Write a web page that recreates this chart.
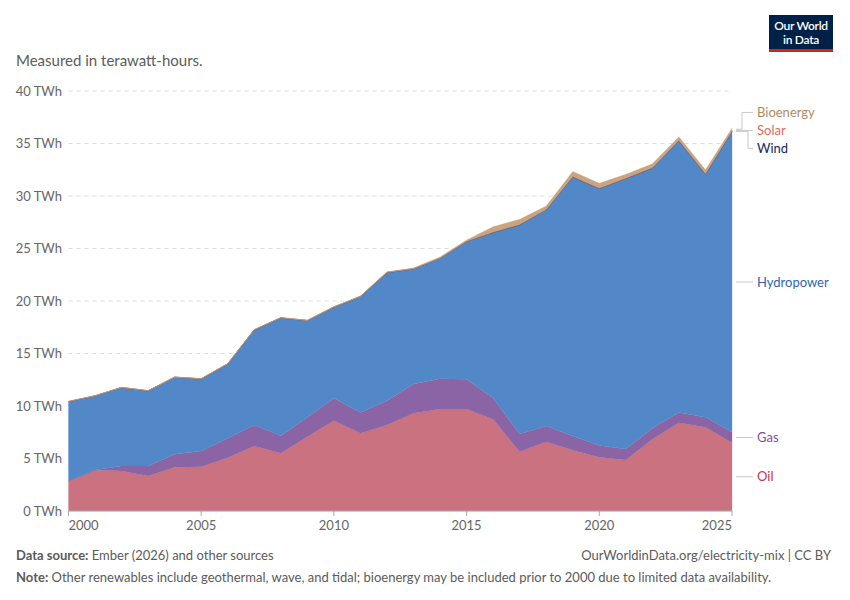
<!DOCTYPE html>
<html>
<head>
<meta charset="utf-8">
<script src="https://cdn.jsdelivr.net/npm/d3@7"></script>
<style>
  body { margin: 0; background: #fff; }
  svg { font-family: Lato, "Noto Sans", sans-serif; }
</style>
</head>
<body>
<script>
const width = 850,
  height = 600;

const margin = { top: 91, right: 118, bottom: 89, left: 68.5 };

// Data, in TWh
const years = [2000, 2001, 2002, 2003, 2004, 2005, 2006, 2007, 2008, 2009, 2010, 2011, 2012,
  2013, 2014, 2015, 2016, 2017, 2018, 2019, 2020, 2021, 2022, 2023, 2024, 2025];
const oil = [2.86, 3.9, 3.8, 3.33, 4.16, 4.22, 5.08, 6.19, 5.49, 7.08, 8.6, 7.4, 8.19,
  9.3, 9.71, 9.71, 8.73, 5.65, 6.6, 5.78, 5.12, 4.86, 6.83, 8.41, 7.97, 6.51];
const gas = [0, 0, 0.49, 0.96, 1.24, 1.49, 1.84, 2.0, 1.68, 1.84, 2.13, 1.97, 2.32,
  2.8, 2.89, 2.83, 2.0, 1.68, 1.5, 1.36, 1.13, 1.04, 1.04, 0.96, 0.95, 0.98];
const hydropower = [7.55, 7.05, 7.46, 7.14, 7.33, 6.86, 7.08, 9.05, 11.21, 9.21, 8.67, 11.04, 12.19,
  10.95, 11.46, 13.11, 15.78, 19.91, 20.57, 24.66, 24.45, 25.75, 24.76, 25.87, 23.14, 28.64];
const wind = [0.02, 0.02, 0.02, 0.02, 0.02, 0.02, 0.02, 0.02, 0.02, 0.02, 0.03, 0.03, 0.03,
  0.03, 0.03, 0.03, 0.05, 0.05, 0.05, 0.05, 0.05, 0.05, 0.05, 0.05, 0.05, 0.05];
const solar = [0, 0, 0, 0, 0, 0, 0, 0, 0, 0, 0.01, 0.01, 0.01,
  0.01, 0.01, 0.03, 0.03, 0.03, 0.03, 0.03, 0.06, 0.06, 0.06, 0.06, 0.06, 0.08];
const bioenergy = [0.03, 0.03, 0.03, 0.03, 0.03, 0.03, 0.03, 0.03, 0.03, 0.03, 0.03, 0.03, 0.03,
  0.06, 0.1, 0.1, 0.48, 0.46, 0.3, 0.46, 0.4, 0.3, 0.32, 0.3, 0.32, 0.2];

const yTicks = [0, 5, 10, 15, 20, 25, 30, 35, 40];
const xTicks = [2000, 2005, 2010, 2015, 2020, 2025];

// bottom to top
const series = [
  { key: "Oil", values: oil, fill: "#cb7280", text: "#c8344f" },
  { key: "Gas", values: gas, fill: "#8a64a4", text: "#7b4fa3" },
  { key: "Hydropower", values: hydropower, fill: "#5288c7", text: "#2f63b0" },
  { key: "Wind", values: wind, fill: "#4c5a78", text: "#0f2b5b" },
  { key: "Solar", values: solar, fill: "#d98a80", text: "#e06a58" },
  { key: "Bioenergy", values: bioenergy, fill: "#c9a47c", text: "#b08a5f" }
];

const table = years.map((y, i) => {
  const row = { year: y };
  series.forEach(s => (row[s.key] = s.values[i]));
  return row;
});

const stacked = d3.stack().keys(series.map(s => s.key))(table);

const xScale = d3
  .scaleLinear()
  .domain([2000, 2025])
  .range([margin.left, width - margin.right]);

const yScale = d3
  .scaleLinear()
  .domain([0, 40])
  .range([height - margin.bottom, margin.top]);

const svg = d3
  .select("body")
  .append("svg")
  .attr("width", width)
  .attr("height", height);

// subtitle
svg
  .append("text")
  .attr("x", 16)
  .attr("y", 66)
  .attr("font-size", 15)
  .attr("fill", "#5b5b5b")
  .text("Measured in terawatt-hours.");

// logo
const logo = svg.append("g").attr("transform", "translate(769,15)");
logo.append("rect").attr("width", 64).attr("height", 34).attr("fill", "#002147");
logo.append("rect").attr("y", 34).attr("width", 64).attr("height", 3).attr("fill", "#ce261e");
logo
  .append("text")
  .attr("x", 32)
  .attr("y", 14.5)
  .attr("text-anchor", "middle")
  .attr("font-size", 12)
  .attr("font-weight", 600)
  .attr("fill", "#fff")
  .attr("letter-spacing", -0.3)
  .text("Our World");
logo
  .append("text")
  .attr("x", 32)
  .attr("y", 28.5)
  .attr("text-anchor", "middle")
  .attr("font-size", 12)
  .attr("font-weight", 600)
  .attr("fill", "#fff")
  .attr("letter-spacing", -0.3)
  .text("in Data");

// gridlines
svg
  .append("g")
  .selectAll("line")
  .data(yTicks.filter(d => d > 0))
  .enter()
  .append("line")
  .attr("x1", margin.left)
  .attr("x2", width - margin.right)
  .attr("y1", d => yScale(d))
  .attr("y2", d => yScale(d))
  .attr("stroke", "#dcdcdc")
  .attr("stroke-dasharray", "4,4");

// areas
const area = d3
  .area()
  .x(d => xScale(d.data.year))
  .y0(d => yScale(d[0]))
  .y1(d => yScale(d[1]));

svg
  .append("g")
  .selectAll("path")
  .data(stacked)
  .enter()
  .append("path")
  .attr("d", area)
  .attr("fill", (d, i) => series[i].fill)
  .attr("stroke", (d, i) => (series[i].key === "Wind" ? "#5f5f6f" : series[i].fill))
  .attr("stroke-width", (d, i) => (series[i].key === "Wind" ? 0.8 : 0.3));

// y axis labels
svg
  .append("g")
  .selectAll("text")
  .data(yTicks)
  .enter()
  .append("text")
  .attr("x", 62)
  .attr("y", d => yScale(d))
  .attr("dy", "0.35em")
  .attr("text-anchor", "end")
  .attr("font-size", 13)
  .attr("fill", "#666")
  .text(d => d + " TWh");

// x axis
const xAxis = svg.append("g");
xAxis
  .append("line")
  .attr("x1", margin.left)
  .attr("x2", width - margin.right)
  .attr("y1", yScale(0))
  .attr("y2", yScale(0))
  .attr("stroke", "#a9a9a9");
xAxis
  .selectAll(".tick")
  .data(xTicks)
  .enter()
  .append("line")
  .attr("x1", d => xScale(d))
  .attr("x2", d => xScale(d))
  .attr("y1", yScale(0))
  .attr("y2", yScale(0) + 5)
  .attr("stroke", "#a9a9a9");
xAxis
  .selectAll("text")
  .data(xTicks)
  .enter()
  .append("text")
  .attr("x", d => xScale(d))
  .attr("y", yScale(0) + 19)
  .attr("text-anchor", (d, i) => (i === 0 ? "start" : i === xTicks.length - 1 ? "end" : "middle"))
  .attr("font-size", 13)
  .attr("fill", "#666")
  .text(d => d);

// labels on the right
const last = years.length - 1;
const labels = stacked.map((s, i) => ({
  key: series[i].key,
  color: series[i].text,
  target: yScale((s[last][0] + s[last][1]) / 2)
}));
labels.forEach(l => (l.y = l.target));
// spread overlapping labels, top to bottom
const order = labels.slice().sort((a, b) => a.target - b.target);
const gap = 18;
for (let iter = 0; iter < 50; iter++) {
  for (let i = 1; i < order.length; i++) {
    const a = order[i - 1], b = order[i];
    if (b.y - a.y < gap) {
      const mid = (a.y + b.y) / 2;
      a.y = mid - gap / 2;
      b.y = mid + gap / 2;
    }
  }
}

const lx0 = width - margin.right + 4;
const lx1 = lx0 + 17;
const lg = svg.append("g");
lg.selectAll("path")
  .data(labels)
  .enter()
  .append("path")
  .attr("d", l => {
    if (Math.abs(l.y - l.target) < 2) return `M${lx0},${l.y}H${lx1}`;
    const bend = l.y < l.target ? lx0 + 6 : lx0 + 12;
    return `M${lx0},${l.target}H${bend}V${l.y}H${lx1}`;
  })
  .attr("fill", "none")
  .attr("stroke", "#c8c8c8");
lg.selectAll("text")
  .data(labels)
  .enter()
  .append("text")
  .attr("x", lx1 + 4)
  .attr("y", l => l.y)
  .attr("dy", "0.35em")
  .attr("font-size", 13)
  .attr("fill", l => l.color)
  .text(l => l.key);

// footer
const src = svg
  .append("text")
  .attr("x", 16)
  .attr("y", 560)
  .attr("font-size", 13)
  .attr("fill", "#5b5b5b");
src.append("tspan").attr("font-weight", 700).text("Data source:");
src.append("tspan").text(" Ember (2026) and other sources");

svg
  .append("text")
  .attr("x", 831)
  .attr("y", 560)
  .attr("text-anchor", "end")
  .attr("font-size", 13)
  .attr("fill", "#5b5b5b")
  .text("OurWorldinData.org/electricity-mix | CC BY");

const note = svg
  .append("text")
  .attr("x", 16)
  .attr("y", 582)
  .attr("font-size", 13)
  .attr("fill", "#5b5b5b");
note.append("tspan").attr("font-weight", 700).text("Note:");
note
  .append("tspan")
  .text(
    " Other renewables include geothermal, wave, and tidal; bioenergy may be included prior to 2000 due to limited data availability."
  );
</script>
</body>
</html>
